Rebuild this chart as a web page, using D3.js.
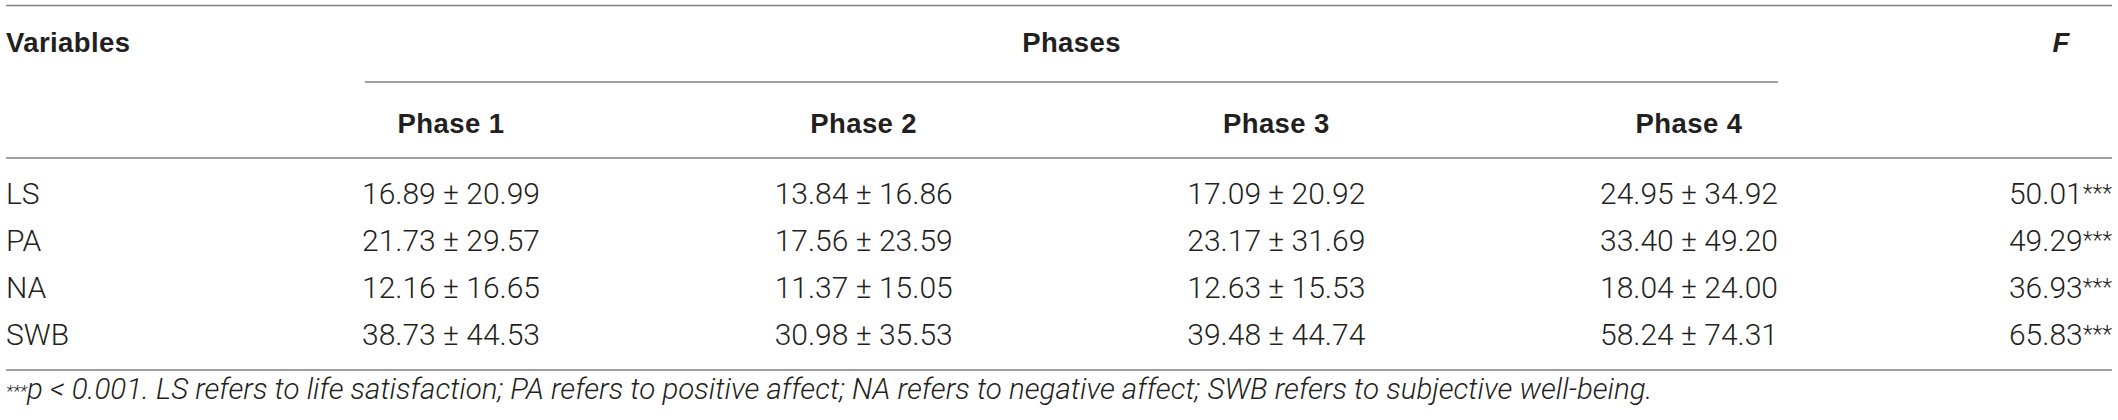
<!DOCTYPE html>
<html>
<head>
<meta charset="utf-8">
<script src="https://cdn.jsdelivr.net/npm/d3@7"></script>
<style>
  html, body { margin: 0; padding: 0; background: #fff; }
  svg { display: block; }
  .body { font-family: Roboto, "Liberation Sans", Arial, sans-serif; font-weight: 300; font-size: 30px; fill: #231f20; }
  .head { font-family: "Liberation Sans", Arial, sans-serif; font-weight: 700; font-size: 27.5px; letter-spacing: 0.4px; fill: #231f20; }
  .note { font-family: Roboto, "Liberation Sans", Arial, sans-serif; font-weight: 300; font-style: italic; font-size: 29.5px; fill: #231f20; }
</style>
</head>
<body>
<svg id="chart" width="2118" height="420"></svg>
<script>
const variables = ["LS", "PA", "NA", "SWB"];
const phases = ["Phase 1", "Phase 2", "Phase 3", "Phase 4"];
const means = [
  [16.89, 13.84, 17.09, 24.95],
  [21.73, 17.56, 23.17, 33.40],
  [12.16, 11.37, 12.63, 18.04],
  [38.73, 30.98, 39.48, 58.24]
];
const sds = [
  [20.99, 16.86, 20.92, 34.92],
  [29.57, 23.59, 31.69, 49.20],
  [16.65, 15.05, 15.53, 24.00],
  [44.53, 35.53, 44.74, 74.31]
];
const fValues = [50.01, 49.29, 36.93, 65.83];
const fStars = ["***", "***", "***", "***"];
const footnote = "p < 0.001. LS refers to life satisfaction; PA refers to positive affect; NA refers to negative affect; SWB refers to subjective well-being.";

const svg = d3.select("#chart");
const left = 6, right = 2112;

const x = d3.scalePoint().domain(phases).range([451, 1689]);
const y = d3.scalePoint().domain(variables).range([204, 345]);

const lineColor = "#808080";
function hline(x1, x2, yy) {
  svg.append("line").attr("x1", x1).attr("x2", x2).attr("y1", yy).attr("y2", yy)
    .attr("stroke", lineColor).attr("stroke-width", 1.6);
}
hline(left, right, 5.5);
hline(365, 1778, 82);
hline(left, right, 158);
hline(left, right, 370);

// header row 1
svg.append("text").attr("class", "head").attr("x", 6).attr("y", 52).text("Variables");
svg.append("text").attr("class", "head").attr("x", (365 + 1778) / 2).attr("y", 52)
  .attr("text-anchor", "middle").text("Phases");
svg.append("text").attr("class", "head").attr("x", 2061).attr("y", 52)
  .attr("text-anchor", "middle").style("font-style", "italic").text("F");

// header row 2
svg.selectAll("text.ph").data(phases).join("text")
  .attr("class", "head ph")
  .attr("x", d => x(d)).attr("y", 133)
  .attr("text-anchor", "middle").text(d => d);

// body rows
const fmt = d3.format(".2f");
variables.forEach((v, i) => {
  svg.append("text").attr("class", "body").attr("x", 6).attr("y", y(v)).text(v);
  phases.forEach((p, j) => {
    svg.append("text").attr("class", "body")
      .attr("x", x(p)).attr("y", y(v)).attr("text-anchor", "middle")
      .text(fmt(means[i][j]) + " \u00B1 " + fmt(sds[i][j]));
  });
  const t = svg.append("text").attr("class", "body")
    .attr("x", right).attr("y", y(v)).attr("text-anchor", "end");
  t.append("tspan").text(fmt(fValues[i]));
  t.append("tspan").attr("dy", -3).style("font-size", "23px").text(fStars[i]);
});

// footnote
const n = svg.append("text").attr("class", "note").attr("x", 6).attr("y", 399);
n.append("tspan").style("font-size", "17px").attr("dy", -2).text("***");
n.append("tspan").attr("dy", 2).text(footnote);
</script>
</body>
</html>
